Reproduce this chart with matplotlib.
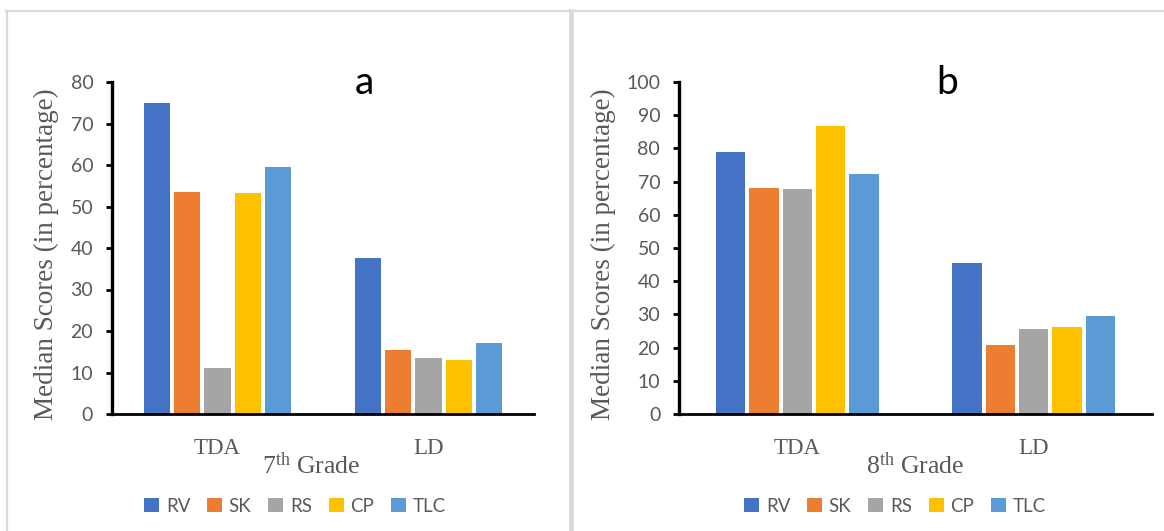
import matplotlib
matplotlib.use("Agg")
import matplotlib.pyplot as plt
import numpy as np
from matplotlib.lines import Line2D
from matplotlib.patches import Patch

plt.rcParams['mathtext.fontset'] = 'custom'
plt.rcParams['mathtext.rm'] = 'Liberation Serif'
plt.rcParams['mathtext.it'] = 'Liberation Serif:italic'

# ---- data ----
groups = ["TDA", "LD"]
series = ["RV", "SK", "RS", "CP", "TLC"]
colors = ["#4472C4", "#ED7D31", "#A5A5A5", "#FFC000", "#5B9BD5"]

grade7_RV = [75.0, 37.5]
grade7_SK = [53.5, 15.5]
grade7_RS = [11.2, 13.4]
grade7_CP = [53.2, 13.0]
grade7_TLC = [59.5, 17.1]

grade8_RV = [78.8, 45.6]
grade8_SK = [68.1, 20.9]
grade8_RS = [67.7, 25.7]
grade8_CP = [86.6, 26.3]
grade8_TLC = [72.3, 29.5]

yticks7 = [0, 10, 20, 30, 40, 50, 60, 70, 80]
yticks8 = [0, 10, 20, 30, 40, 50, 60, 70, 80, 90, 100]

W, H = 1164, 531
fig = plt.figure(figsize=(W / 100, H / 100), dpi=100)
fig.patch.set_facecolor("white")

GRAY = "#595959"
SANS = "Lato"
SERIF = "Liberation Serif"


def px(x0, y_top, w, h):
    return [x0 / W, 1 - (y_top + h) / H, w / W, h / H]


def panel(rect, data, yticks, group_frac, bar_frac, letter, letter_xy, grade_text,
          grade_xy, ylabel_x, legend_xy):
    ax = fig.add_axes(rect)
    n = len(series)
    x = np.arange(len(groups))
    slot = group_frac / n
    for i, (vals, c) in enumerate(zip(data, colors)):
        off = (i - (n - 1) / 2) * slot
        ax.bar(x + off, vals, width=slot * bar_frac, color=c, label=series[i], zorder=2)
    ax.set_xlim(-0.5, len(groups) - 0.5)
    ax.set_ylim(yticks[0], yticks[-1])
    ax.set_yticks(yticks)
    ax.set_xticks(x)
    ax.set_xticklabels(groups, family=SERIF, fontsize=16.5, color=GRAY)
    ax.tick_params(axis="x", length=0, pad=17)
    ax.tick_params(axis="y", direction="out", length=4, width=2, pad=9.5,
                   labelsize=14, labelcolor=GRAY, color="black")
    for lab in ax.get_yticklabels():
        lab.set_family(SANS)
    for s in ["top", "right"]:
        ax.spines[s].set_visible(False)
    ax.spines["left"].set_linewidth(2.4)
    ax.spines["bottom"].set_linewidth(2.0)
    ax.spines["left"].set_color("black")
    ax.spines["bottom"].set_color("black")
    ax.set_facecolor("none")

    fig.text(letter_xy[0] / W, 1 - letter_xy[1] / H, letter, family=SANS,
             fontsize=28, color="black", ha="center", va="center")
    fig.text(grade_xy[0] / W, 1 - grade_xy[1] / H, grade_text, family=SERIF,
             fontsize=18.5, color=GRAY, ha="center", va="center")
    fig.text(ylabel_x / W, 1 - 254 / H, "Median Scores (in percentage)", family=SERIF,
             fontsize=19.5, color=GRAY, rotation=90, ha="center", va="center")

    handles = [Patch(facecolor=c, edgecolor="none") for c in colors]
    fig.legend(handles, series, loc="center", bbox_to_anchor=(legend_xy[0] / W, 1 - legend_xy[1] / H),
               ncol=5, frameon=False, handlelength=0.8, handleheight=0.8,
               handletextpad=0.35, columnspacing=0.9, prop={"family": SANS, "size": 13.5},
               labelcolor=GRAY)
    return ax


data7 = [grade7_RV, grade7_SK, grade7_RS, grade7_CP, grade7_TLC]
data8 = [grade8_RV, grade8_SK, grade8_RS, grade8_CP, grade8_TLC]

panel(px(112, 82, 422, 332), data7, yticks7, 0.716, 0.87, "a", (364, 83),
      "7$^{\\mathrm{th}}$ Grade", (311, 466), 46, (295, 506))
panel(px(679, 82, 473, 332), data8, yticks8, 0.706, 0.88, "b", (947, 83),
      "8$^{\\mathrm{th}}$ Grade", (915, 466), 603, (895, 506))

# panel frame lines
BORDER = "#d9d9d9"
fig.add_artist(Line2D([6 / W, 1], [1 - 11 / H, 1 - 11 / H], color=BORDER, lw=1.6,
                      transform=fig.transFigure))
fig.add_artist(Line2D([7 / W, 7 / W], [0, 1 - 11 / H], color=BORDER, lw=1.6,
                      transform=fig.transFigure))
fig.add_artist(Line2D([570.5 / W, 570.5 / W], [0, 1 - 11 / H], color=BORDER, lw=3.4,
                      transform=fig.transFigure))

fig.savefig("out.png", dpi=100, facecolor="white")
